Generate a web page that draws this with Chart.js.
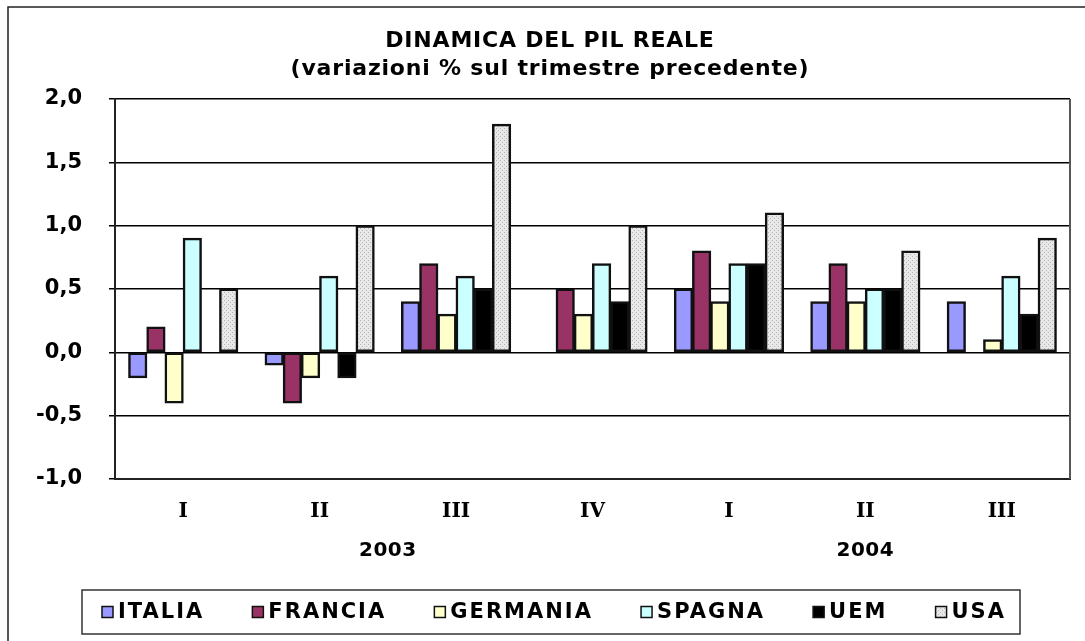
<!DOCTYPE html>
<html>
<head>
<meta charset="utf-8">
<script src="https://cdn.jsdelivr.net/npm/chart.js@4.4.1/dist/chart.umd.min.js"></script>
<style>
  html, body { margin: 0; padding: 0; background: #fff; }
  #wrap { width: 1085px; height: 641px; }
</style>
</head>
<body>
<div id="wrap"><canvas id="myChart" width="1085" height="641"></canvas></div>
<script>
// Data
const quarters = ["I", "II", "III", "IV", "I", "II", "III"];
const years = ["2003", "2003", "2003", "2003", "2004", "2004", "2004"];
const yMin = -1;
const yMax = 2;
const yStep = 0.5;
const italia = [-0.2, -0.1, 0.4, null, 0.5, 0.4, 0.4];
const francia = [0.2, -0.4, 0.7, 0.5, 0.8, 0.7, null];
const germania = [-0.4, -0.2, 0.3, 0.3, 0.4, 0.4, 0.1];
const spagna = [0.9, 0.6, 0.6, 0.7, 0.7, 0.5, 0.6];
const uem = [null, -0.2, 0.5, 0.4, 0.7, 0.5, 0.3];
const usa = [0.5, 1.0, 1.8, 1.0, 1.1, 0.8, 0.9];

const FONT = '"DejaVu Sans", Verdana, sans-serif';

// dotted grey fill for USA
function dotPattern() {
  const c = document.createElement("canvas");
  c.width = 4;
  c.height = 4;
  const g = c.getContext("2d");
  g.fillStyle = "#e8e8e8";
  g.fillRect(0, 0, 4, 4);
  g.fillStyle = "#b4b4b4";
  g.fillRect(0, 0, 1, 1);
  g.fillRect(2, 2, 1, 1);
  return g.createPattern(c, "repeat");
}

function series(label, data, color) {
  return {
    label: label,
    data: data,
    backgroundColor: color,
    borderColor: "#111",
    borderWidth: 2.5,
    borderSkipped: false,
    inflateAmount: 0.5,
    categoryPercentage: 0.8,
    barPercentage: 1.0,
  };
}

// frame, title, years, legend
const decor = {
  id: "decor",
  afterDraw(chart) {
    const ctx = chart.ctx;
    const area = chart.chartArea;
    const xs = chart.scales.x;
    const frameL = 8, frameT = 7, frameR = 1092;
    const cx = (frameL + frameR) / 2;
    ctx.save();

    // outer frame
    ctx.strokeStyle = "#222";
    ctx.lineWidth = 1.5;
    ctx.strokeRect(frameL, frameT, frameR - frameL, 700);

    // right edge of plot
    ctx.strokeStyle = "#555";
    ctx.lineWidth = 2;
    ctx.beginPath();
    ctx.moveTo(area.right, area.top);
    ctx.lineTo(area.right, area.bottom);
    ctx.stroke();

    // title
    ctx.fillStyle = "#000";
    ctx.textAlign = "center";
    ctx.textBaseline = "middle";
    ctx.font = "bold 22px " + FONT;
    ctx.letterSpacing = "0.8px";
    ctx.fillText("DINAMICA DEL PIL REALE", cx, 41);
    ctx.fillText("(variazioni % sul trimestre precedente)", cx, 69);

    // year labels under the quarters
    ctx.font = "bold 20px " + FONT;
    ctx.letterSpacing = "0.5px";
    const groups = [];
    years.forEach((y, i) => {
      let g = groups.find((o) => o.year === y);
      if (!g) { g = { year: y, first: i, last: i }; groups.push(g); }
      g.last = i;
    });
    groups.forEach((g) => {
      const x = (xs.getPixelForValue(g.first) + xs.getPixelForValue(g.last)) / 2;
      ctx.fillText(g.year, x, 551);
    });

    // legend
    const boxL = 82, boxR = 1020, boxT = 590, boxB = 634;
    ctx.fillStyle = "#fff";
    ctx.fillRect(boxL, boxT, boxR - boxL, boxB - boxT);
    ctx.strokeStyle = "#333";
    ctx.lineWidth = 1.5;
    ctx.strokeRect(boxL, boxT, boxR - boxL, boxB - boxT);

    ctx.font = "bold 21px " + FONT;
    ctx.letterSpacing = "2px";
    const sq = 11, sqGap = 5;
    const ds = chart.data.datasets;
    const widths = ds.map((d) => sq + sqGap + ctx.measureText(d.label).width);
    const innerL = boxL + 20, innerR = boxR - 14;
    const total = widths.reduce((a, b) => a + b, 0);
    const gap = (innerR - innerL - total) / (ds.length - 1);
    const cy = (boxT + boxB) / 2;
    let x = innerL;
    ctx.textAlign = "left";
    ds.forEach((d, i) => {
      ctx.fillStyle = d.backgroundColor;
      ctx.fillRect(x, cy - sq / 2, sq, sq);
      ctx.strokeStyle = "#111";
      ctx.lineWidth = 1.5;
      ctx.strokeRect(x, cy - sq / 2, sq, sq);
      ctx.fillStyle = "#000";
      ctx.fillText(d.label, x + sq + sqGap, cy + 1);
      x += widths[i] + gap;
    });

    ctx.restore();
  },
};

const ctx = document.getElementById("myChart").getContext("2d");
new Chart(ctx, {
  type: "bar",
  data: {
    labels: quarters,
    datasets: [
      series("ITALIA", italia, "#9999ff"),
      series("FRANCIA", francia, "#993366"),
      series("GERMANIA", germania, "#ffffcc"),
      series("SPAGNA", spagna, "#ccffff"),
      series("UEM", uem, "#000000"),
      series("USA", usa, dotPattern()),
    ],
  },
  options: {
    responsive: false,
    animation: false,
    devicePixelRatio: 1,
    layout: { padding: { top: 99, left: 0, right: 15, bottom: 0 } },
    plugins: {
      legend: { display: false },
      title: { display: false },
      tooltip: { enabled: false },
    },
    scales: {
      x: {
        grid: { display: false },
        border: { display: true, color: "#222", width: 2 },
        ticks: {
          color: "#000",
          padding: 13,
          font: { family: '"DejaVu Serif", serif', size: 20, weight: "bold" },
        },
        afterFit(scale) {
          scale.height = 162; // bottom of plot at y=479
        },
      },
      y: {
        min: yMin,
        max: yMax,
        grid: {
          color: "#000",
          lineWidth: 1.5,
          tickLength: 6,
          drawTicks: true,
        },
        border: { display: true, color: "#222", width: 2 },
        ticks: {
          stepSize: yStep,
          color: "#000",
          padding: 27,
          font: { family: FONT, size: 21, weight: "bold" },
          callback: (v) => v.toFixed(1).replace(".", ","),
        },
        afterFit(scale) {
          scale.width = 115;
        },
      },
    },
  },
  plugins: [decor],
});
</script>
</body>
</html>
